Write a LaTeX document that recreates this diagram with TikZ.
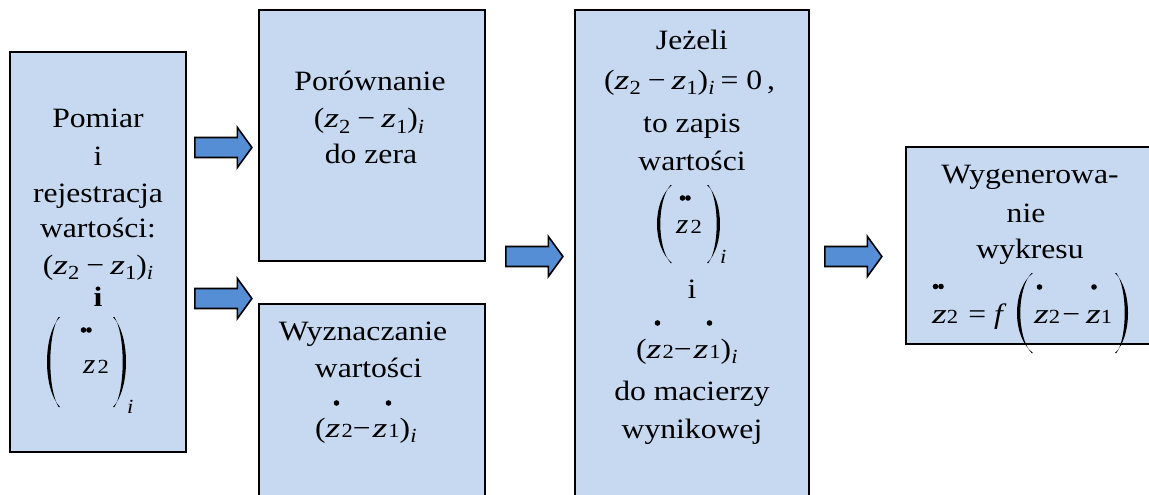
\documentclass[tikz,border=0pt]{standalone}
\usepackage{fontspec}
\setmainfont{Liberation Serif}[FakeStretch=1.13]
\definecolor{boxblue}{HTML}{C6D9F1}
\definecolor{arrowblue}{HTML}{558ED5}
% italic variable (wide, as in the equations), lowered subscript, small digit on the baseline
\newcommand\zvar{\scalebox{1.2}[1]{\textit{z}}}
\newcommand\zplain{\textit{z}}
\newcommand\subl[1]{\raisebox{-5.5pt}{\fontsize{20}{20}\selectfont #1}}
\newcommand\smalldigit[1]{{\fontsize{20}{20}\selectfont #1}}
\tikzset{
  stage/.style={draw=black, line width=1.8pt, fill=boxblue, inner sep=0pt},
  txt/.style={font=\fontsize{28}{33}\selectfont, inner sep=0pt, anchor=base},
  txtw/.style={txt, anchor=base west},
  arrowbody/.style={draw=black, line width=1.6pt, fill=arrowblue, line join=miter},
  blockarrow/.pic={\draw[arrowbody] (0,-10) -- (42.5,-10) -- (42.5,-20) -- (57,0)
                   -- (42.5,20) -- (42.5,10) -- (0,10) -- cycle;},
  % tall parenthesis: height #1, width #2, origin at the outermost point
  pics/bigparen/.style 2 args={code={
    \fill (#2,-#1/2) .. controls ({-#2/3},{-0.3*#1}) and ({-#2/3},{0.3*#1}) .. (#2,#1/2)
      -- ({#2-1.4},#1/2) .. controls ({(3.3-0.25*(#2-1.4))/0.75},{0.3*#1})
         and ({(3.3-0.25*(#2-1.4))/0.75},{-0.3*#1}) .. ({#2-1.4},-#1/2) -- cycle;}},
  dotmark/.style={fill=black}
}
\usetikzlibrary{calc}
\begin{document}
\begin{tikzpicture}[x=1pt, y=-1pt]
\useasboundingbox (0,0) rectangle (1149,495);

% process stages
\node[stage, minimum width=176pt, minimum height=400pt] (meas) at (98,252) {};
\node[stage, minimum width=226pt, minimum height=251pt] (comp) at (372,135.5) {};
\node[stage, minimum width=226pt, minimum height=216pt] (calc) at (372,412) {};
\node[stage, minimum width=234pt, minimum height=510pt] (store) at (692,265) {};
\node[stage, minimum width=264pt, minimum height=197pt] (plot) at (1038,245.5) {};

% block arrows between stages
\coordinate (a1) at ($(meas.east |- 0,147.5)+(8,0)$);
\coordinate (a2) at ($(meas.east |- 0,298.5)+(8,0)$);
\coordinate (a3) at ($(comp.east |- 0,256.5)+(20,0)$);
\coordinate (a4) at ($(store.east |- 0,256.5)+(15,0)$);
\pic at (a1) {blockarrow};
\pic at (a2) {blockarrow};
\pic at (a3) {blockarrow};
\pic at (a4) {blockarrow};

% stage 1: measurement
\node[txt] (m1) at (98,128) {Pomiar};
\node[txt] (m2) at (98,165) {i};
\node[txt] (m3) at (98,202) {rejestracja};
\node[txt] (m4) at (98,237) {wartości:};
\node[txt] (m5) at (98,274) {(\zvar\subl{2}\hspace{7pt}−\hspace{6pt}\zvar\subl{1})\subl{\textit{i}}};
\node[txt] (m6) at (98,306) {\textbf{i}};
\pic at (47,362) {bigparen={90}{13}};
\pic[xscale=-1] at (126,362) {bigparen={90}{13}};
\node[txtw] (m9) at (83,373) {\zplain\hspace{2pt}\smalldigit{2}};
\fill[dotmark] (83.5,330) circle (2.8);
\fill[dotmark] (89,330) circle (2.8);
\node[txtw] (m10) at (127,413) {\smalldigit{\textit{i}}};

% stage 2: comparison
\node[txt] (c1) at (370,90) {Porównanie};
\node[txt] (c2) at (369,128) {(\zvar\subl{2}\hspace{7pt}−\hspace{6pt}\zvar\subl{1})\subl{\textit{i}}};
\node[txt] (c3) at (371,163) {do zera};

% stage 3: velocity difference
\node[txt] (d1) at (363,340) {Wyznaczanie};
\node[txt] (d2) at (368.5,377) {wartości};
\node[txtw] (d3) at (315,437) {(\zvar\hspace{1pt}\smalldigit{2}−\hspace{2pt}\zvar\hspace{1pt}\smalldigit{1})\subl{\textit{i}}};
\fill[dotmark] (336.5,403) circle (2.8);
\fill[dotmark] (388.5,403) circle (2.8);

% stage 4: storing
\node[txt] (s1) at (692,50) {Jeżeli};
\node[txtw] (s2) at (604,89) {(\zvar\subl{2}\hspace{7pt}−\hspace{6pt}\zvar\subl{1})\subl{\textit{i}}\hspace{6pt}=\hspace{8pt}0\hspace{5pt},};
\node[txt] (s3) at (692,132) {to zapis};
\node[txt] (s4) at (692,170) {wartości};
\pic at (657,224) {bigparen={78}{15}};
\pic[xscale=-1] at (720,224) {bigparen={78}{13}};
\node[txtw] (s7) at (676,233) {\zplain\hspace{2pt}\smalldigit{2}};
\fill[dotmark] (682.5,198) circle (2.8);
\fill[dotmark] (688,198) circle (2.8);
\node[txtw] (s8) at (720,263) {\smalldigit{\textit{i}}};
\node[txt] (s9) at (692,298) {i};
\node[txtw] (s10) at (636,358) {(\zvar\hspace{1pt}\smalldigit{2}−\hspace{2pt}\zvar\hspace{1pt}\smalldigit{1})\subl{\textit{i}}};
\fill[dotmark] (657.5,323) circle (2.8);
\fill[dotmark] (709.5,323) circle (2.8);
\node[txt] (s11) at (692,400) {do macierzy};
\node[txt] (s12) at (692,438) {wynikowej};

% stage 5: plot
\node[txt] (p1) at (1030,183) {Wygenerowa-};
\node[txt] (p2) at (1026,222) {nie};
\node[txt] (p3) at (1030,258) {wykresu};
\node[txtw] (p4) at (932,323) {\zvar\smalldigit{2}\hspace{10pt}=\hspace{8pt}\textit{f}};
\pic at (1017,313) {bigparen={80}{16}};
\pic[xscale=-1] at (1128,313) {bigparen={80}{13}};
\node[txtw] (p7) at (1034,323) {\zvar\smalldigit{2}\hspace{2pt}−\hspace{6pt}\zvar\smalldigit{1}};
\fill[dotmark] (935.5,286.5) circle (2.8);
\fill[dotmark] (941,286.5) circle (2.8);
\fill[dotmark] (1039.5,287) circle (2.8);
\fill[dotmark] (1094,287) circle (2.8);
\end{tikzpicture}
\end{document}
